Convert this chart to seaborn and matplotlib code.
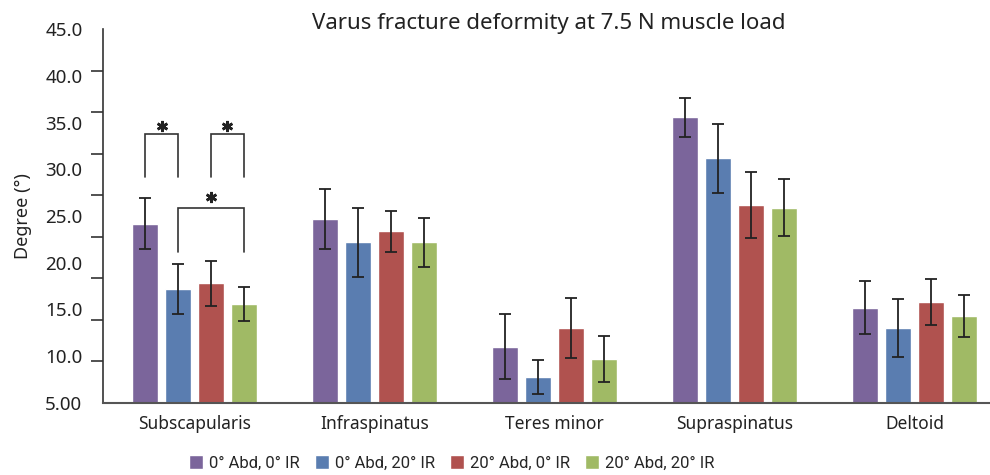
import matplotlib
matplotlib.use("Agg")
import matplotlib.pyplot as plt
import numpy as np
import pandas as pd
import seaborn as sns

# ── Data ─────────────────────────────────────────────────────────────────────
muscles = ["Subscapularis", "Infraspinatus", "Teres minor", "Supraspinatus", "Deltoid"]
positions = ["0° Abd, 0° IR", "0° Abd, 20° IR", "20° Abd, 0° IR", "20° Abd, 20° IR"]

means = {
    "0° Abd, 0° IR":   [24.2, 24.7, 11.0, 35.6, 15.2],
    "0° Abd, 20° IR":  [17.2, 22.2, 7.75, 31.2, 13.0],
    "20° Abd, 0° IR":  [17.8, 23.4, 13.0, 26.2, 15.8],
    "20° Abd, 20° IR": [15.6, 22.2, 9.7, 25.9, 14.3],
}
sds = {
    "0° Abd, 0° IR":   [2.7, 3.2, 3.5, 2.1, 2.8],
    "0° Abd, 20° IR":  [2.7, 3.7, 1.8, 3.7, 3.1],
    "20° Abd, 0° IR":  [2.4, 2.2, 3.2, 3.5, 2.5],
    "20° Abd, 20° IR": [1.8, 2.6, 2.5, 3.05, 2.3],
}

ytick_vals = [5, 10, 15, 20, 25, 30, 35, 40, 45]
ytick_labels = ["5.00", "10.0", "15.0", "20.0", "25.0", "30.0", "35.0", "40.0", "45.0"]

# significance brackets on Subscapularis:
# (hue index a, hue index b, bracket top, leg bottom, star height)
brackets = [(0, 1, 33.8, 29.2, 34.65), (2, 3, 33.8, 29.2, 34.65), (1, 3, 25.9, 21.2, 27.1)]

COLORS = ["#7B659B", "#5A7DB0", "#B0524F", "#A0BA65"]

# ── Style ─────────────────────────────────────────────────────────────────────
sns.set_style("white")
plt.rcParams["font.family"] = ["Noto Sans", "DejaVu Sans"]

df = pd.DataFrame(
    [(m, p, means[p][i]) for p in positions for i, m in enumerate(muscles)],
    columns=["muscle", "position", "degree"],
)

fig = plt.figure(figsize=(9.9, 4.75), dpi=100)
ax = fig.add_axes([0.1043, 0.152, 0.8957, 0.786])

sns.barplot(
    data=df, x="muscle", y="degree", hue="position",
    order=muscles, hue_order=positions, palette=COLORS,
    width=0.733, gap=0.21, errorbar=None, saturation=1, ax=ax,
)

# error bars at the bar centres seaborn placed
centres = {}
for h, (cont, p) in enumerate(zip(ax.containers, positions)):
    xs = [b.get_x() + b.get_width() / 2 for b in cont]
    centres[h] = xs
    ax.errorbar(xs, means[p], yerr=sds[p], fmt="none", ecolor="#222222",
                elinewidth=1.3, capsize=4, capthick=1.3, zorder=3)

for a, b, top, bottom, star in brackets:
    xa, xb = centres[a][0], centres[b][0]
    ax.plot([xa, xa, xb, xb], [bottom, top, top, bottom], color="#333333",
            lw=1.2, solid_joinstyle="miter", clip_on=False)
    ax.plot([(xa + xb) / 2], [star], marker=(6, 2, 0), ms=8, mew=1.9,
            color="#222222", linestyle="none")

ax.set_ylim(5, 45)
ax.set_xlim(-0.507, 4.42)

ax.set_yticks(ytick_vals)
ax.set_yticklabels(ytick_labels)
ax.set_yticks(np.linspace(5, 45, 10), minor=True)
ax.tick_params(axis="y", which="major", length=0, pad=15, labelsize=13.5, labelcolor="#222222")
ax.tick_params(axis="y", which="minor", length=9, width=1.2, color="#333333", left=True)
ax.tick_params(axis="x", length=0, pad=9, labelsize=12.5, labelcolor="#222222")

ax.set_xlabel("")
ax.set_ylabel("Degree (°)", fontsize=13, color="#222222")
ax.yaxis.set_label_coords(-0.08, 0.5)

for s in ["top", "right"]:
    ax.spines[s].set_visible(False)
ax.spines["left"].set_color("#333333")
ax.spines["left"].set_linewidth(1.2)
ax.spines["bottom"].set_color("#555555")
ax.spines["bottom"].set_linewidth(1.5)

fig.text(549 / 990, 1 - 23 / 475, "Varus fracture deformity at 7.5 N muscle load",
         ha="center", va="center", fontsize=16, color="#222222")

handles, labels = ax.get_legend_handles_labels()
ax.get_legend().remove()
fig.legend(handles, labels, loc="center", bbox_to_anchor=(452 / 990, 1 - 463 / 475),
           ncol=4, frameon=False, handlelength=0.85, handleheight=0.85,
           handletextpad=0.35, columnspacing=0.9,
           prop={"family": "Roboto", "size": 12})

fig.savefig("out.png", dpi=100)
